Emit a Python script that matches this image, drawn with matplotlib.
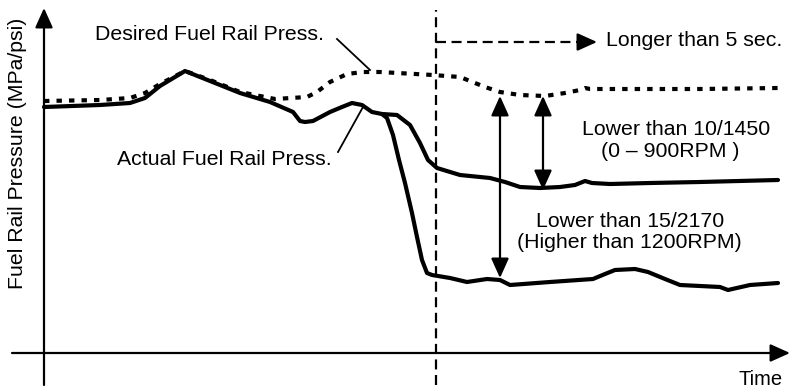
import matplotlib.pyplot as plt

plt.rcParams['font.family'] = ['Liberation Sans', 'DejaVu Sans']

# time axis (arbitrary units) and rail pressure (arbitrary units)
t_desired = [0, 56, 86, 101, 116, 141, 166, 196, 231, 263, 273, 286, 303, 319,
             336, 389, 416, 441, 456, 476, 501, 521, 536, 541, 546, 576, 656, 734]
p_desired = [252, 253, 255, 260, 269, 282, 273, 261, 254, 256, 261, 271, 279, 281,
             281, 278, 276, 266, 261, 258, 257, 260, 263, 265, 264, 264, 264, 265]

t_actual = [0, 56, 86, 101, 116, 141, 166, 196, 226, 249, 256, 261, 269, 286,
            298, 308, 318, 328, 338, 353, 366, 376, 384, 393, 416, 446, 461,
            476, 496, 516, 531, 541, 548, 566, 606, 656, 734]
p_actual = [246, 248, 250, 255, 267, 282, 272, 260, 251, 241, 232, 231, 232,
            241, 246, 250, 248, 241, 239, 238, 228, 210, 193, 185, 178, 175,
            171, 166, 165, 166, 168, 172, 170, 169, 170, 171, 173]

t_actual_low = [338, 343, 349, 355, 361, 368, 373, 378, 383, 388, 406, 423,
                443, 456, 466, 506, 549, 561, 571, 591, 604, 621, 636, 676,
                684, 706, 734]
p_actual_low = [239, 235, 218, 193, 170, 140, 116, 93, 80, 78, 75, 71,
                74, 73, 68, 71, 74, 79, 83, 84, 81, 74, 68, 66, 63, 68, 70]

t_limit = 392           # moment the pressure drop starts counting
t_span_end = 553        # end of "longer than 5 sec." arrow
p_span = 311
t_gap_high, p_gap_high = 456, (257, 75)
t_gap_low, p_gap_low = 499, (257, 163)

fig = plt.figure(figsize=(7.91, 3.90), dpi=100)
ax = fig.add_axes([0, 0, 1, 1])
ax.set_xlim(-44, 747)
ax.set_ylim(-37, 353)
ax.axis('off')

fs = 15.3
k = 'black'
head = '-|>,head_length=0.6,head_width=0.27'

# axes with arrow heads
ax.annotate('', xy=(746, 0), xytext=(-32, 0),
            arrowprops=dict(arrowstyle=head, lw=1.6, color=k,
                            shrinkA=0, shrinkB=0, mutation_scale=20))
ax.annotate('', xy=(0, 345), xytext=(0, -32),
            arrowprops=dict(arrowstyle=head, lw=1.6, color=k,
                            shrinkA=0, shrinkB=0, mutation_scale=20))

# vertical dashed marker
ax.plot([t_limit, t_limit], [-32, 343], color=k, lw=1.6,
        linestyle=(0, (4.5, 2.5)))
ax.plot([t_limit, t_span_end - 10], [p_span, p_span], color=k, lw=1.6,
        linestyle=(0, (4.5, 2.5)))
ax.annotate('', xy=(t_span_end, p_span), xytext=(t_span_end - 12, p_span),
            arrowprops=dict(arrowstyle=head, lw=1.6, color=k,
                            shrinkA=0, shrinkB=0, mutation_scale=20))

# curves
ax.plot(t_desired, p_desired, color=k, lw=3.0, linestyle=(0, (1.3, 1.7)),
        dash_capstyle='butt', solid_joinstyle='round')
ax.plot(t_actual, p_actual, color=k, lw=3.0, solid_capstyle='round',
        solid_joinstyle='round')
ax.plot(t_actual_low, p_actual_low, color=k, lw=3.0, solid_capstyle='round',
        solid_joinstyle='round')

# gap arrows
for t, (p_top, p_bot) in [(t_gap_high, p_gap_high), (t_gap_low, p_gap_low)]:
    ax.annotate('', xy=(t, p_bot), xytext=(t, p_top),
                arrowprops=dict(arrowstyle='<|-|>,head_length=0.6,head_width=0.27',
                                lw=1.6, color=k, shrinkA=0, shrinkB=0,
                                mutation_scale=20))

# leader lines
ax.plot([293, 326], [314, 283], color=k, lw=1.3)
ax.plot([294, 319], [201, 246], color=k, lw=1.3)

ax.text(165, 313, 'Desired Fuel Rail Press.', fontsize=fs, ha='center', va='baseline')
ax.text(180, 188, 'Actual Fuel Rail Press.', fontsize=fs, ha='center', va='baseline')
ax.text(562, 307, 'Longer than 5 sec.', fontsize=fs, ha='left', va='baseline')
ax.text(632, 218, 'Lower than 10/1450', fontsize=fs, ha='center', va='baseline')
ax.text(626, 196, '(0 \u2013 900RPM )', fontsize=fs, ha='center', va='baseline')
ax.text(586, 126, 'Lower than 15/2170', fontsize=fs, ha='center', va='baseline')
ax.text(585, 105, '(Higher than 1200RPM)', fontsize=fs, ha='center', va='baseline')
ax.text(739, -32, 'Time', fontsize=fs - 0.8, ha='right', va='baseline')
ax.text(-26, 200, 'Fuel Rail Pressure (MPa/psi)', fontsize=fs, rotation=90,
        ha='center', va='center')

fig.savefig('out.png', dpi=100)
